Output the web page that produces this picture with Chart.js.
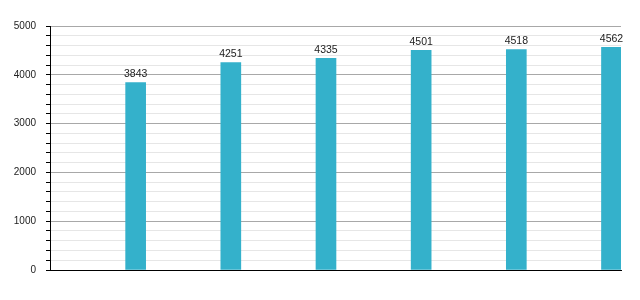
<!DOCTYPE html>
<html>
<head>
<meta charset="utf-8">
<script src="https://cdn.jsdelivr.net/npm/chart.js@4/dist/chart.umd.min.js"></script>
<style>
  body { margin: 0; background: #fff; }
</style>
</head>
<body>
<canvas id="myChart" width="640" height="300"></canvas>
<script>
'use strict';
// =============== data ===============
const years = ['1970', '1980', '1991', '2001', '2003', '2006'];
const population = [3843, 4251, 4335, 4501, 4518, 4562];
const yMax = 5000;
const yMajorStep = 1000;
const yMinorStep = 200;

// =============== value labels above bars ===============
const valueLabels = {
    id: 'valueLabels',
    afterDatasetsDraw(chart) {
        const ctx = chart.ctx;
        const meta = chart.getDatasetMeta(0);
        ctx.save();
        ctx.font = '10.5px "Liberation Sans", Arial, sans-serif';
        ctx.fillStyle = '#222';
        ctx.textAlign = 'center';
        ctx.textBaseline = 'bottom';
        meta.data.forEach((bar, i) => {
            ctx.fillText(population[i], bar.x, bar.y - 3);
        });
        ctx.restore();
    }
};

// =============== chart ===============
let myChart = document.getElementById('myChart').getContext('2d');

let BarChart = new Chart(myChart, {
    type: 'bar',
    data: {
        datasets: [{
            label: 'Population',
            data: population.map((v, i) => ({x: i, y: v})),
            backgroundColor: '#34b1cb',
            barThickness: 20
        }]
    },
    options: {
        responsive: false,
        animation: false,
        layout: {
            padding: {top: 26, right: 19, bottom: 0, left: 0}
        },
        plugins: {
            legend: {display: false},
            tooltip: {enabled: false}
        },
        scales: {
            x: {
                type: 'linear',
                min: -0.9,
                max: years.length - 0.9,
                afterFit: s => { s.height = 30; },
                grid: {display: false, drawTicks: false},
                border: {color: '#000', width: 1},
                ticks: {
                    stepSize: 1,
                    includeBounds: false,
                    padding: 4,
                    color: '#222',
                    font: {family: '"Liberation Sans", Arial, sans-serif', size: 10},
                    callback: v => years[v]
                }
            },
            y: {
                min: 0,
                max: yMax,
                afterFit: s => { s.width = 50; },
                border: {color: '#000', width: 1},
                grid: {
                    color: c => c.tick.value % yMajorStep === 0 ? '#a8a8a8' : '#e6e6e6',
                    tickColor: '#000',
                    tickLength: 4
                },
                ticks: {
                    stepSize: yMinorStep,
                    padding: 10,
                    color: '#222',
                    font: {family: '"Liberation Sans", Arial, sans-serif', size: 10},
                    autoSkip: false,
                    callback: v => v % yMajorStep === 0 ? v : ''
                }
            }
        }
    },
    plugins: [valueLabels]
});
</script>
</body>
</html>
